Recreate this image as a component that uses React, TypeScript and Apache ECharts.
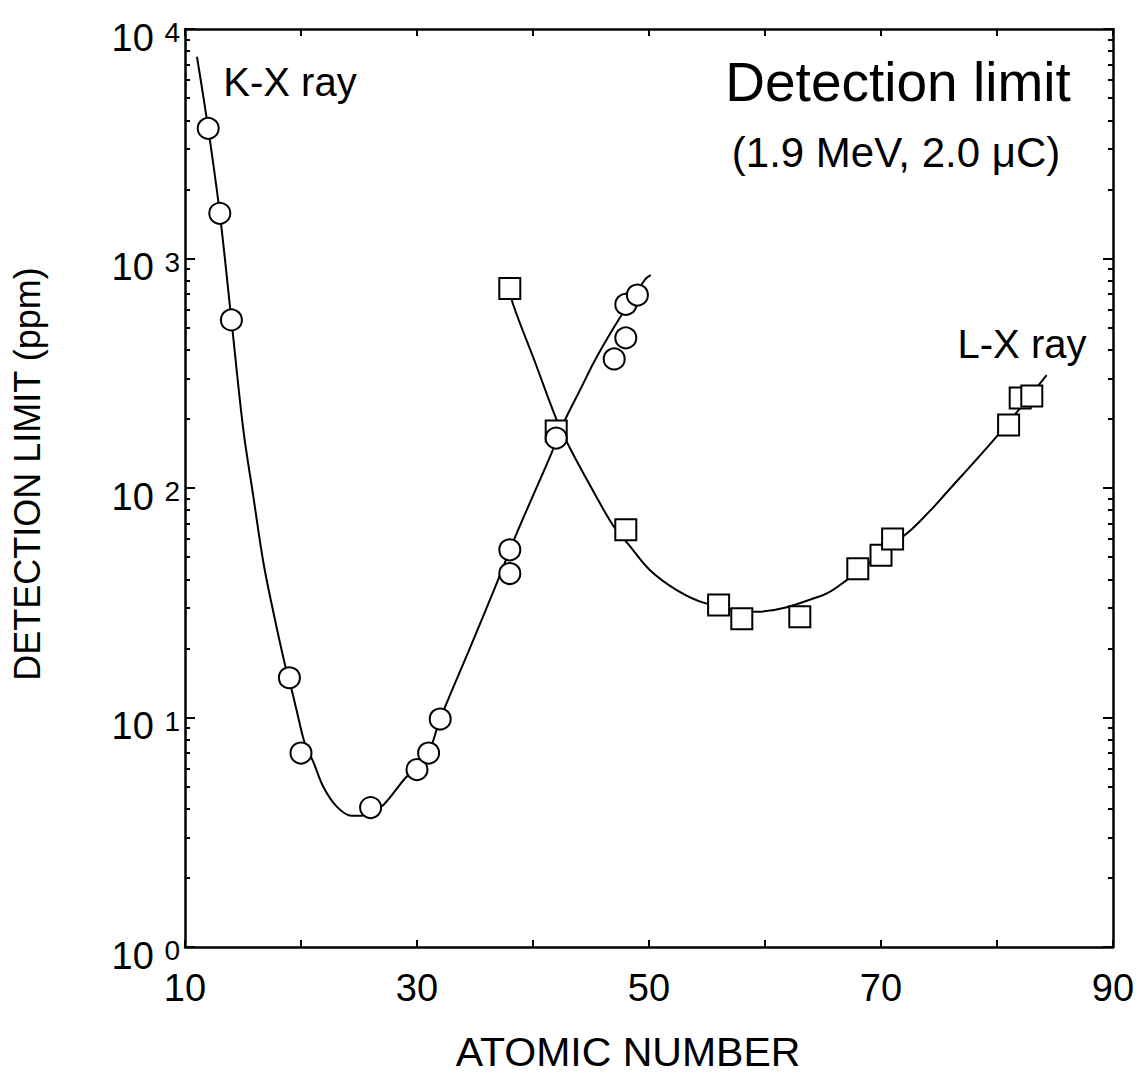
import React, { useEffect, useRef } from "react";
import * as echarts from "echarts";

// ---- Data ----
// Fitted K-X ray curve (atomic number, detection limit ppm)
const kCurveZ = [11.03, 12, 13, 14, 15.03, 15.89, 16.75, 17.61, 18.62, 19.28, 19.63, 20.34, 21.06, 21.92, 23.08, 24.37, 25.23, 26.0, 27.1, 29.1, 30, 31, 32, 34.57, 36.87, 38.45, 41.6, 42.1, 42.76, 44.05, 45.49, 47.5, 49.66, 50.15];
const kCurveV = [7570, 3690, 1573, 540, 179, 92, 47.6, 28.9, 17.0, 12.7, 10.7, 7.68, 6.41, 4.99, 4.09, 3.73, 3.73, 3.9, 4.16, 5.52, 5.93, 7.0, 9.85, 20.1, 38.4, 61, 142, 165, 198, 267, 372, 553, 810, 846];

// Fitted L-X ray curve
const lCurveZ = [38, 38.28, 40.17, 42.04, 43.19, 45.34, 46.92, 48.3, 50.09, 52.39, 54.83, 59.28, 65.03, 67.04, 72.35, 74.22, 75.52, 80.11, 84.28];
const lCurveV = [741, 632, 354, 198, 149, 94, 68.5, 56.2, 43.8, 35.9, 31.5, 28.9, 34.2, 39.7, 64.1, 79.5, 93.9, 171, 310];

// Measured K-X ray points (circles)
const kPointZ = [12, 13, 14, 19, 20, 26, 30, 31, 32, 38, 38, 42, 47, 48, 48, 49];
const kPointV = [3690, 1573, 540, 14.9, 7.0, 4.05, 5.93, 7.0, 9.85, 53.8, 42.4, 165, 365, 451, 631, 693];

// Measured L-X ray points (squares)
const lPointZ = [38, 42, 48, 56, 58, 63, 68, 70, 71, 81, 82, 83];
const lPointV = [741, 177, 65.7, 30.9, 26.9, 27.5, 44.5, 50.9, 60.0, 188, 247, 252];

// Axis ticks / labels
const xTickLabels = [10, 30, 50, 70, 90];
const yDecades = [1, 10, 100, 1000];
const yMinorMantissas = [2, 3, 4, 5, 6, 7, 8, 9];

const FONT = '"Liberation Sans", Arial, Helvetica, sans-serif';

export default function App() {
  const ref = useRef<HTMLDivElement>(null);

  useEffect(() => {
    document.body.style.margin = "0";
    const chart = echarts.init(ref.current!, undefined, { renderer: "svg" });
    const pair = (xs: number[], ys: number[]) => xs.map((x, i) => [x, ys[i]]);
    const minorTicks: number[] = [];
    yDecades.forEach((d) => yMinorMantissas.forEach((m) => minorTicks.push(m * d)));

    const axisLine = { show: true, lineStyle: { color: "#000", width: 2.5 } };
    const yBase = { type: "log", logBase: 10, min: 1, max: 10000, splitNumber: 4, splitLine: { show: false } };
    const xBase = { type: "value", min: 10, max: 90, interval: 10, splitLine: { show: false } };

    const option: any = {
      animation: false,
      backgroundColor: "#fff",
      grid: { left: 185, top: 29, right: 28, bottom: 122, containLabel: false },
      xAxis: [
        {
          ...xBase,
          position: "bottom",
          axisLine,
          axisTick: { show: true, inside: true, length: 7, lineStyle: { color: "#000", width: 2 } },
          axisLabel: {
            color: "#000",
            fontSize: 38,
            fontFamily: FONT,
            margin: 22,
            formatter: (v: number) => (xTickLabels.indexOf(v) >= 0 ? String(v) : ""),
          },
          name: "ATOMIC NUMBER",
          nameLocation: "middle",
          nameGap: 84,
          nameTextStyle: { color: "#000", fontSize: 41, fontFamily: FONT, padding: [0, 42, 0, 0] },
        },
        {
          ...xBase,
          position: "top",
          axisLine,
          axisTick: { show: true, inside: true, length: 7, lineStyle: { color: "#000", width: 2 } },
          axisLabel: { show: false },
        },
      ],
      yAxis: [
        {
          ...yBase,
          position: "left",
          axisLine,
          axisTick: { show: true, inside: true, length: 10, lineStyle: { color: "#000", width: 2 } },
          axisLabel: {
            color: "#000",
            fontFamily: FONT,
            margin: 5,
            padding: [17, 0, 0, 0],
            formatter: (v: number) => `{b|10 }{s|${Math.round(Math.log10(v))}}`,
            rich: {
              b: { fontSize: 38, fontFamily: FONT, color: "#000" },
              s: { fontSize: 28, fontFamily: FONT, color: "#000", verticalAlign: "top" },
            },
          },
          name: "DETECTION LIMIT (ppm)",
          nameLocation: "middle",
          nameRotate: 90,
          nameGap: 140,
          nameTextStyle: { color: "#000", fontSize: 36, fontFamily: FONT, padding: [0, 0, 0, 28] },
        },
        {
          ...yBase,
          position: "left",
          axisLine: { show: false },
          axisTick: { show: true, inside: true, length: 5, customValues: minorTicks, lineStyle: { color: "#000", width: 2 } },
          axisLabel: { show: false },
        },
        {
          ...yBase,
          position: "right",
          axisLine,
          axisTick: { show: true, inside: true, length: 10, lineStyle: { color: "#000", width: 2 } },
          axisLabel: { show: false },
        },
        {
          ...yBase,
          position: "right",
          axisLine: { show: false },
          axisTick: { show: true, inside: true, length: 5, customValues: minorTicks, lineStyle: { color: "#000", width: 2 } },
          axisLabel: { show: false },
        },
      ],
      series: [
        {
          name: "K-X ray curve",
          type: "line",
          data: pair(kCurveZ, kCurveV),
          smooth: 0.35,
          symbol: "none",
          lineStyle: { color: "#000", width: 2 },
          silent: true,
          z: 2,
        },
        {
          name: "L-X ray curve",
          type: "line",
          data: pair(lCurveZ, lCurveV),
          smooth: 0.35,
          symbol: "none",
          lineStyle: { color: "#000", width: 2 },
          silent: true,
          z: 2,
        },
        {
          name: "L-X ray",
          type: "scatter",
          data: pair(lPointZ, lPointV),
          symbol: "rect",
          symbolSize: 21,
          itemStyle: { color: "#fff", borderColor: "#000", borderWidth: 2, opacity: 1 },
          silent: true,
          z: 3,
        },
        {
          name: "K-X ray",
          type: "scatter",
          data: pair(kPointZ, kPointV),
          symbol: "circle",
          symbolSize: 21,
          itemStyle: { color: "#fff", borderColor: "#000", borderWidth: 2, opacity: 1 },
          silent: true,
          z: 4,
        },
      ],
      graphic: [
        {
          type: "text",
          x: 290,
          y: 82,
          style: { text: "K-X ray", font: `40px ${FONT}`, fill: "#000", textAlign: "center", textVerticalAlign: "middle" },
        },
        {
          type: "text",
          x: 1022,
          y: 344,
          style: { text: "L-X ray", font: `40px ${FONT}`, fill: "#000", textAlign: "center", textVerticalAlign: "middle" },
        },
        {
          type: "text",
          x: 898,
          y: 82,
          style: { text: "Detection limit", font: `55px ${FONT}`, fill: "#000", textAlign: "center", textVerticalAlign: "middle" },
        },
        {
          type: "text",
          x: 896,
          y: 152,
          style: { text: "(1.9 MeV, 2.0 \u03bcC)", font: `42px ${FONT}`, fill: "#000", textAlign: "center", textVerticalAlign: "middle" },
        },
      ],
    };

    chart.setOption(option);
    return () => chart.dispose();
  }, []);

  return <div ref={ref} style={{ width: 1141, height: 1077 }} />;
}
